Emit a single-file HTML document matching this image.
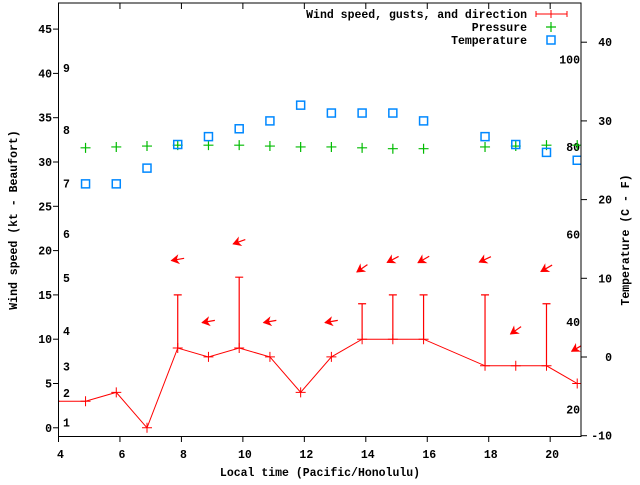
<!DOCTYPE html>
<html><head><meta charset="utf-8"><style>
body{margin:0;background:#fff}
svg text{font-family:"Liberation Mono",monospace;font-weight:bold;font-size:11.5px;fill:#000}
</style></head><body>
<svg id="c" width="640" height="480" xmlns="http://www.w3.org/2000/svg">
<rect x="0" y="0" width="640" height="480" fill="#fff"/>
<defs><clipPath id="pc"><rect x="58.5" y="3" width="522.5" height="433.5"/></clipPath></defs>
<g id="axes"></g>
<g id="marks" clip-path="url(#pc)"></g>
<rect x="58.5" y="3" width="522.5" height="433.5" fill="none" stroke="#000" stroke-width="1"/>
<text x="320" y="476" text-anchor="middle">Local time (Pacific/Honolulu)</text>
<text transform="translate(17,220) rotate(-90)" text-anchor="middle">Wind speed (kt - Beaufort)</text>
<text transform="translate(629,240) rotate(-90)" text-anchor="middle">Temperature (C - F)</text>
<g>
<text x="527" y="18" text-anchor="end">Wind speed, gusts, and direction</text>
<path d="M536 14H567M536 11V17M567 11V17M551 10V18" stroke="#f00" stroke-width="1"/>
<text x="527" y="31" text-anchor="end">Pressure</text>
<path d="M546 27H556M551 22V32" stroke="#0b0" stroke-width="1.2"/>
<text x="527" y="44" text-anchor="end">Temperature</text>
<rect x="547" y="36" width="8" height="8" fill="none" stroke="#08f" stroke-width="1.5"/>
</g>
</svg>
<script>
const times = [3.88,4.88,5.88,6.88,7.88,8.88,9.88,10.88,11.88,12.88,13.88,14.88,15.88,17.88,18.88,19.88,20.88];
const windKt = [3,3,4,0,9,8,9,8,4,8,10,10,10,7,7,7,5];
const gustKt = [3,3,4,0,15,8,17,8,4,8,14,15,15,15,7,14,5];
const windDir = [null,null,null,null,80,80,70,80,null,80,55,62,60,65,55,60,60];
const pressure = [31.6,31.6,31.7,31.8,31.9,31.9,31.9,31.8,31.7,31.7,31.6,31.5,31.5,31.7,31.8,31.9,31.9];
const tempC = [22,22,22,24,27,28,29,30,32,31,31,31,30,28,27,26,25];
const xTicks = [4,6,8,10,12,14,16,18,20];
const yTicks = [0,5,10,15,20,25,30,35,40,45];
const y2Ticks = [-10,0,10,20,30,40];
const fTicks = [20,40,60,80,100];
const beaufort = [[1,0.6],[2,3.9],[3,6.9],[4,10.9],[5,16.9],[6,21.9],[7,27.6],[8,33.6],[9,40.6]];

const X = t => 58.5 + (t-4)*30.73;
const Y = v => 427.8 - v*8.86;
const Y2 = c => 357 - c*7.87;
const NS = "http://www.w3.org/2000/svg";
function mk(tag, attrs, parent){const e=document.createElementNS(NS,tag);for(const k in attrs)e.setAttribute(k,attrs[k]);parent.appendChild(e);return e;}
const axes = document.getElementById('axes');
const marks = document.getElementById('marks');

xTicks.forEach(t=>{
  const p = mk('path',{d:`M${X(t)} 436.5V442M${X(t)} 3V9`,stroke:'#000'},axes);
  
  
  const l = mk('text',{x:X(t)+2,y:458,'text-anchor':'middle'},axes);
  l.textContent = t;
  
  
});
yTicks.forEach(v=>{
  const p = mk('path',{d:`M53 ${Y(v)}H58.5`,stroke:'#000'},axes);
  
  
  const l = mk('text',{x:52,y:Y(v)+4,'text-anchor':'end'},axes);
  l.textContent = v;
  
  
});
y2Ticks.forEach(c=>{
  const p = mk('path',{d:`M581 ${Y2(c)}H587`,stroke:'#000'},axes);
  
  
  const l = mk('text',{x:612,y:Y2(c)+4,'text-anchor':'end'},axes);
  l.textContent = c;
  
  
});
fTicks.forEach(f=>{
  const l = mk('text',{x:580,y:Y2((f-32)*5/9)+4,'text-anchor':'end'},axes);
  l.textContent = f;
  
  
});
beaufort.forEach(b=>{
  const l = mk('text',{x:63,y:Y(b[1])+4},axes);
  l.textContent = b[0];
  
  
});

const ln = mk('polyline',{points:times.map((t,i)=>X(t)+','+Y(windKt[i])).join(' '),fill:'none',stroke:'#f00','stroke-width':1},marks);


times.forEach((t,i)=>{
  const x=X(t), y=Y(windKt[i]);
  const pm = mk('path',{d:`M${x-5} ${y}H${x+5}M${x} ${y-5}V${y+5}`,stroke:'#f00','stroke-width':1},marks);
  
  
  if(gustKt[i]>windKt[i]){
    const gy=Y(gustKt[i]);
    const g = mk('path',{d:`M${x} ${y}V${gy}M${x-4} ${gy}H${x+4}`,stroke:'#f00','stroke-width':1.2},marks);
    
    
  }
  if(windDir[i]!==null){
    const d=windDir[i]*Math.PI/180, L=13;
    const vx=-Math.sin(d)*L, vy=Math.cos(d)*L;
    const cy=Y(Math.max(windKt[i],gustKt[i])+4);
    const hx=x+vx/2, hy=cy+vy/2, tx=x-vx/2, ty=cy-vy/2;
    const ux=vx/L, uy=vy/L, px=-uy, py=ux;
    const a = mk('path',{d:`M${tx} ${ty}L${hx} ${hy}`,stroke:'#f00','stroke-width':1.2},marks);
    
    
    const h = mk('polygon',{points:`${hx},${hy} ${hx-ux*7+px*4},${hy-uy*7+py*4} ${hx-ux*5},${hy-uy*5} ${hx-ux*7-px*4},${hy-uy*7-py*4}`,fill:'#f00',stroke:'#f00','stroke-width':0.8},marks);
    
    
  }
  if(t>=4){
    const py2=Y(pressure[i]);
    const pp = mk('path',{d:`M${x-5} ${py2}H${x+5}M${x} ${py2-5}V${py2+5}`,stroke:'#0b0','stroke-width':1.2},marks);
    
    
    const ty2=Y2(tempC[i]);
    const tp = mk('rect',{x:x-4,y:ty2-4,width:8,height:8,fill:'none',stroke:'#08f','stroke-width':1.5},marks);
    
    
  }
});
</script>
</body></html>
